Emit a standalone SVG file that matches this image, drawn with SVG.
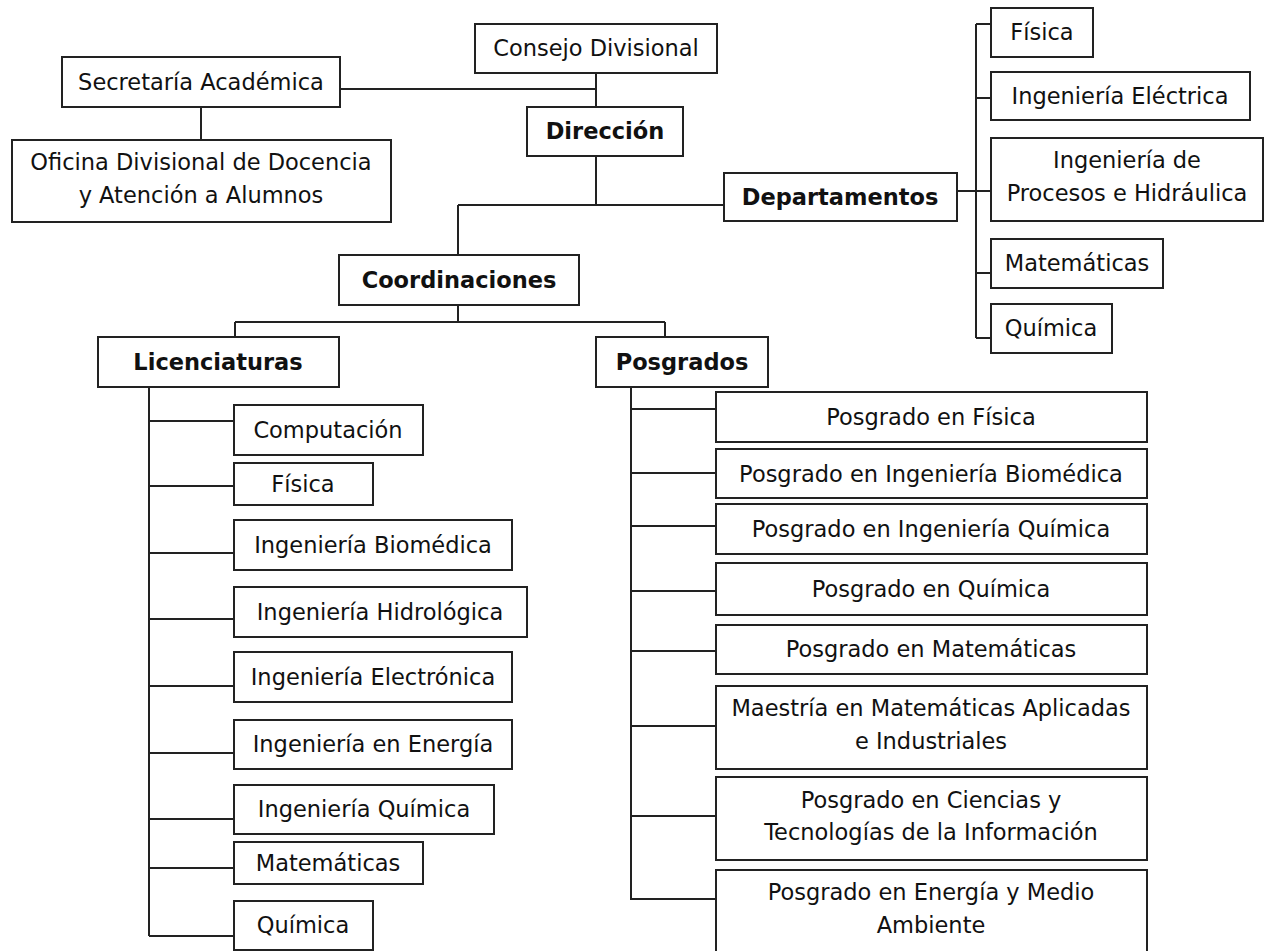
<svg xmlns="http://www.w3.org/2000/svg" width="1265" height="951" viewBox="0 0 1265 951">
<style>
rect{fill:#fff;stroke:#222;stroke-width:2}
text{font-family:"DejaVu Sans","Verdana",sans-serif;font-size:22.5px;fill:#111;text-anchor:middle}
.b{font-weight:bold}
#connectors path{fill:none;stroke:#222;stroke-width:2}
</style>
<rect x="0" y="0" width="1265" height="951" style="stroke:none"/>
<g id="connectors">
<path d="M340,89H596M596,73V107M596,156V205M458,205H724M201,107V140"/>
<path d="M458,205V255M458,305V322M235,322H665M235,322V337M665,322V337"/>
<path d="M957,191H991M976,24V338M976,24H991M976,98H991M976,273H991M976,338H991"/>
<path d="M149,387V936M149,421H234M149,486H234M149,553H234M149,619H234M149,686H234M149,753H234M149,819H234M149,868H234M149,936H234"/>
<path d="M631,387V900M631,409H716M631,473H716M631,526H716M631,591H716M631,651H716M631,726H716M631,816H716M631,899H716"/>
</g>
<g id="consejo"><rect x="475" y="24" width="242" height="49"/><text x="596" y="56">Consejo Divisional</text></g>
<g id="secretaria"><rect x="62" y="57" width="278" height="50"/><text x="201" y="89.5">Secretaría Académica</text></g>
<g id="oficina"><rect x="12" y="140" width="379" height="82"/><text x="201" y="170">Oficina Divisional de Docencia</text><text x="201" y="203">y Atención a Alumnos</text></g>
<g id="direccion"><rect x="527" y="107" width="156" height="49"/><text class="b" x="605" y="139">Dirección</text></g>
<g id="departamentos"><rect x="724" y="173" width="233" height="48"/><text class="b" x="840" y="204.5">Departamentos</text></g>
<g id="dep-fisica"><rect x="991" y="8" width="102" height="49"/><text x="1042" y="40">Física</text></g>
<g id="dep-electrica"><rect x="991" y="72" width="259" height="48"/><text x="1120" y="103.5">Ingeniería Eléctrica</text></g>
<g id="dep-procesos"><rect x="991" y="138" width="272" height="83"/><text x="1127" y="168">Ingeniería de</text><text x="1127" y="201">Procesos e Hidráulica</text></g>
<g id="dep-matematicas"><rect x="991" y="239" width="172" height="49"/><text x="1077" y="271">Matemáticas</text></g>
<g id="dep-quimica"><rect x="991" y="304" width="121" height="49"/><text x="1051" y="336">Química</text></g>
<g id="coordinaciones"><rect x="339" y="255" width="240" height="50"/><text class="b" x="459" y="287.5">Coordinaciones</text></g>
<g id="licenciaturas"><rect x="98" y="337" width="241" height="50"/><text class="b" x="218" y="369.5">Licenciaturas</text></g>
<g id="posgrados"><rect x="596" y="337" width="172" height="50"/><text class="b" x="682" y="369.5">Posgrados</text></g>
<g id="lic-computacion"><rect x="234" y="405" width="189" height="50"/><text x="328" y="437.5">Computación</text></g>
<g id="lic-fisica"><rect x="234" y="463" width="139" height="42"/><text x="303" y="491.5">Física</text></g>
<g id="lic-biomedica"><rect x="234" y="520" width="278" height="50"/><text x="373" y="552.5">Ingeniería Biomédica</text></g>
<g id="lic-hidrologica"><rect x="234" y="587" width="293" height="50"/><text x="380" y="619.5">Ingeniería Hidrológica</text></g>
<g id="lic-electronica"><rect x="234" y="652" width="278" height="50"/><text x="373" y="684.5">Ingeniería Electrónica</text></g>
<g id="lic-energia"><rect x="234" y="720" width="278" height="49"/><text x="373" y="752">Ingeniería en Energía</text></g>
<g id="lic-quimica-ing"><rect x="234" y="785" width="260" height="49"/><text x="364" y="817">Ingeniería Química</text></g>
<g id="lic-matematicas"><rect x="234" y="842" width="189" height="42"/><text x="328" y="870.5">Matemáticas</text></g>
<g id="lic-quimica"><rect x="234" y="901" width="139" height="49"/><text x="303" y="933">Química</text></g>
<g id="pos-fisica"><rect x="716" y="392" width="431" height="50"/><text x="931" y="424.5">Posgrado en Física</text></g>
<g id="pos-biomedica"><rect x="716" y="449" width="431" height="49"/><text x="931" y="482">Posgrado en Ingeniería Biomédica</text></g>
<g id="pos-ingquimica"><rect x="716" y="504" width="431" height="50"/><text x="931" y="536.5">Posgrado en Ingeniería Química</text></g>
<g id="pos-quimica"><rect x="716" y="563" width="431" height="52"/><text x="931" y="596.5">Posgrado en Química</text></g>
<g id="pos-matematicas"><rect x="716" y="625" width="431" height="49"/><text x="931" y="657">Posgrado en Matemáticas</text></g>
<g id="pos-maestria"><rect x="716" y="686" width="431" height="83"/><text x="931" y="716">Maestría en Matemáticas Aplicadas</text><text x="931" y="749">e Industriales</text></g>
<g id="pos-ciencias"><rect x="716" y="777" width="431" height="83"/><text x="931" y="808">Posgrado en Ciencias y</text><text x="931" y="840">Tecnologías de la Información</text></g>
<g id="pos-energia"><rect x="716" y="870" width="431" height="90"/><text x="931" y="900">Posgrado en Energía y Medio</text><text x="931" y="933">Ambiente</text></g>
</svg>
